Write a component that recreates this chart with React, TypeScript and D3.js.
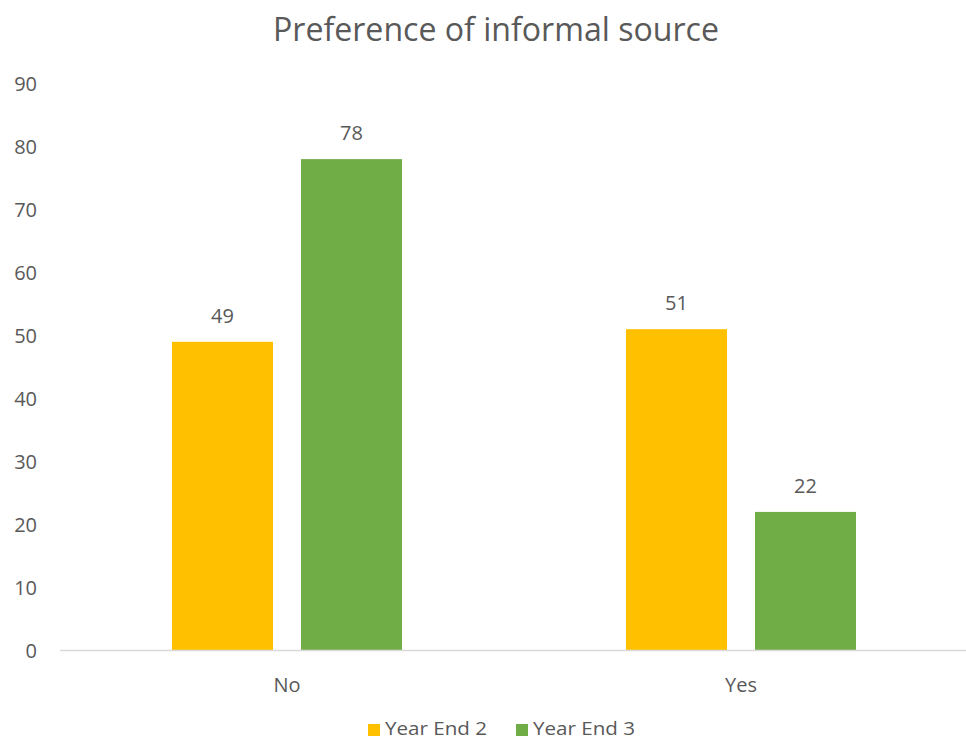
import React from "react";
import * as d3 from "d3";

const categories = ["No", "Yes"];
const seriesNames = ["Year End 2", "Year End 3"];
const yearEnd2 = [49, 51];
const yearEnd3 = [78, 22];
const yTicks = [0, 10, 20, 30, 40, 50, 60, 70, 80, 90];
const colors = ["#FFC000", "#70AD47"];
const title = "Preference of informal source";

const W = 966;
const H = 742;
const FONT = "'Open Sans', 'Liberation Sans', sans-serif";
const TEXT = "#595959";
const FS = 20;

export default function App() {
  const seriesValues = [yearEnd2, yearEnd3];
  const x0 = d3.scaleBand<string>().domain(categories).range([60, 968]).paddingInner(0).paddingOuter(0);
  const groupW = 230;
  const x1 = d3.scaleBand<string>().domain(seriesNames).range([0, groupW]).paddingInner(0.2171).paddingOuter(0);
  const y = d3.scaleLinear().domain([0, 90]).range([650.5, 83.5]);

  return (
    <svg width={W} height={H} style={{ position: "absolute", left: 0, top: 0, background: "#fff" }} fontFamily={FONT}>
      <rect x={0} y={0} width={W} height={H} fill="#fff" />
      <text x={496} y={41} textAnchor="middle" fontSize={32} fill={TEXT} textLength={446} lengthAdjust="spacingAndGlyphs">{title}</text>
      {yTicks.map((t) => (
        <text key={t} x={37} y={y(t)} dy="0.35em" textAnchor="end" fontSize={FS} fill={TEXT}>{t}</text>
      ))}
      {categories.map((c, ci) => {
        const gx = (x0(c) as number) + x0.bandwidth() / 2 - groupW / 2;
        return (
          <g key={c}>
            {seriesNames.map((s, si) => {
              const v = seriesValues[si][ci];
              const bx = gx + (x1(s) as number);
              return (
                <g key={s}>
                  <rect x={bx} y={y(v)} width={x1.bandwidth()} height={y(0) - y(v)} fill={colors[si]} />
                  <text x={bx + x1.bandwidth() / 2} y={y(v) - 19} textAnchor="middle" fontSize={FS} fill={TEXT}>{v}</text>
                </g>
              );
            })}
            <text x={(x0(c) as number) + x0.bandwidth() / 2} y={685} dy="0.35em" textAnchor="middle" fontSize={FS} fill={TEXT}>{c}</text>
          </g>
        );
      })}
      <line x1={60} x2={W} y1={y(0)} y2={y(0)} stroke="#D9D9D9" strokeWidth={1.5} />
      {seriesNames.map((s, si) => {
        const lx = [368, 516][si];
        return (
          <g key={s}>
            <rect x={lx} y={724} width={12} height={12} fill={colors[si]} />
            <text x={lx + 17} y={735} fontSize={19} fill={TEXT} textLength={102} lengthAdjust="spacingAndGlyphs">{s}</text>
          </g>
        );
      })}
    </svg>
  );
}
